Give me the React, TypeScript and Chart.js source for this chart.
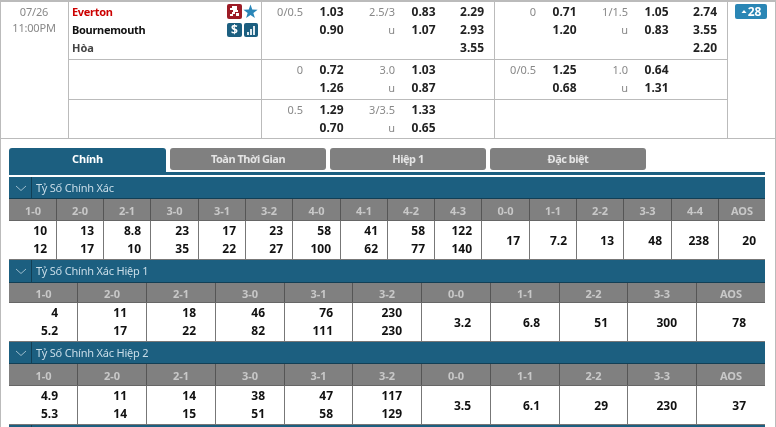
import { useEffect, useRef } from "react";
import Chart from "chart.js/auto";

// top odds block
const teams = ["Everton", "Bournemouth", "Hòa"];
const matchDate = "07/26";
const matchTime = "11:00PM";
const handicapLines = [["0/0.5"], ["0"], ["0.5"]];
const handicapOdds = [["1.03", "0.90"], ["0.72", "1.26"], ["1.29", "0.70"]];
const totalLines = [["2.5/3", "u"], ["3.0", "u"], ["3/3.5", "u"]];
const totalOdds = [["0.83", "1.07"], ["1.03", "0.87"], ["1.33", "0.65"]];
const fullTimeOdds = ["2.29", "2.93", "3.55"];
const halfHandicapLines = [["0"], ["0/0.5"]];
const halfHandicapOdds = [["0.71", "1.20"], ["1.25", "0.68"]];
const halfTotalLines = [["1/1.5", "u"], ["1.0", "u"]];
const halfTotalOdds = [["1.05", "0.83"], ["0.64", "1.31"]];
const halfTimeOdds = ["2.74", "3.55", "2.20"];
const moreCount = "28";

const tabs = ["Chính", "Toàn Thời Gian", "Hiệp 1", "Đặc biệt"];

// correct score tables
const scoresFull = ["1-0", "2-0", "2-1", "3-0", "3-1", "3-2", "4-0", "4-1", "4-2", "4-3", "0-0", "1-1", "2-2", "3-3", "4-4", "AOS"];
const scoresHalf = ["1-0", "2-0", "2-1", "3-0", "3-1", "3-2", "0-0", "1-1", "2-2", "3-3", "AOS"];

const fullHome = ["10", "13", "8.8", "23", "17", "23", "58", "41", "58", "122"];
const fullAway = ["12", "17", "10", "35", "22", "27", "100", "62", "77", "140"];
const fullDraw = ["17", "7.2", "13", "48", "238", "20"];

const half1Home = ["4", "11", "18", "46", "76", "230"];
const half1Away = ["5.2", "17", "22", "82", "111", "230"];
const half1Draw = ["3.2", "6.8", "51", "300", "78"];

const half2Home = ["4.9", "11", "14", "38", "47", "117"];
const half2Away = ["5.3", "14", "15", "51", "58", "129"];
const half2Draw = ["3.5", "6.1", "29", "230", "37"];

const sectionTitles = ["Tỷ Số Chính Xác", "Tỷ Số Chính Xác Hiệp 1", "Tỷ Số Chính Xác Hiệp 2"];

const FONT = '"Noto Sans", sans-serif';
const W = 776;
const H = 427;
const BLUE = "#1c5f80";
const GREY = "#808080";
const LINE = "#bbbbbb";

const edgesFull = [9, 56, 103, 150, 198, 245, 292, 340, 387, 434, 481, 529, 576, 623, 671, 718, 765];
const edgesHalf = [9, 77, 146, 215, 284, 352, 421, 490, 559, 627, 696, 765];

const sectionLayout = [
  { band: 177, head: 199, body: 221, bottom: 259, edges: edgesFull, pad: 10, labels: scoresFull, home: fullHome, away: fullAway, draw: fullDraw },
  { band: 260, head: 283, body: 303, bottom: 341, edges: edgesHalf, pad: 20, labels: scoresHalf, home: half1Home, away: half1Away, draw: half1Draw },
  { band: 342, head: 364, body: 386, bottom: 424, edges: edgesHalf, pad: 20, labels: scoresHalf, home: half2Home, away: half2Away, draw: half2Draw },
];

type Cell = { x: number; y: number; text: string };

function column(right: number, ys: number[], rows: string[]): Cell[] {
  return rows.map((text, i) => ({ x: right, y: ys[i], text }));
}

const rowY = [[12, 30, 48], [70, 88], [110, 128]];

function oddsColumn(right: number, rows: string[][], first = 0): Cell[] {
  return rows.flatMap((r, i) => column(right, rowY[i + first], r));
}

const boldCells: Cell[] = [
  ...oddsColumn(343.5, handicapOdds),
  ...oddsColumn(435.5, totalOdds),
  ...column(484, rowY[0], fullTimeOdds),
  ...oddsColumn(576.5, halfHandicapOdds),
  ...oddsColumn(668.5, halfTotalOdds),
  ...column(717, rowY[0], halfTimeOdds),
];
const lineCells: Cell[] = [
  ...oddsColumn(303, handicapLines),
  ...oddsColumn(395, totalLines),
  ...oddsColumn(536, halfHandicapLines),
  ...oddsColumn(628, halfTotalLines),
];
const tableCells: Cell[] = sectionLayout.flatMap((s) => {
  const upper = s.body + 10;
  const lower = s.bottom - 10;
  const mid = (s.body + s.bottom) / 2 + 0.5;
  const pairs = s.home.flatMap((v, i) => [
    { x: s.edges[i + 1] - s.pad + 1, y: upper, text: v },
    { x: s.edges[i + 1] - s.pad + 1, y: lower, text: s.away[i] },
  ]);
  const singles = s.draw.map((v, i) => ({ x: s.edges[s.home.length + i + 1] - s.pad + 1, y: mid, text: v }));
  return [...pairs, ...singles];
});
const headCells: Cell[] = sectionLayout.flatMap((s) =>
  s.labels.map((text, i) => ({ x: (s.edges[i] + s.edges[i + 1]) / 2 + 0.5, y: (s.head + s.body) / 2 + 0.5, text })),
);
const titleCells: Cell[] = sectionLayout.map((s, i) => ({ x: 36, y: s.band + 11, text: sectionTitles[i] }));

const textSets = [
  { cells: boldCells, color: "#222222", font: `bold 12px ${FONT}`, align: "right" },
  { cells: lineCells, color: "#888888", font: `11px ${FONT}`, align: "right" },
  { cells: tableCells, color: "#111111", font: `bold 12px ${FONT}`, align: "right" },
  { cells: headCells, color: "#c8c8c8", font: `bold 11px ${FONT}`, align: "center" },
  { cells: titleCells, color: "#c9dde8", font: `11px ${FONT}`, align: "left", spacing: "-0.2px" },
  { cells: [{ x: 34, y: 12, text: matchDate }, { x: 34, y: 28, text: matchTime }], color: "#888888", font: `11px ${FONT}`, align: "center", spacing: "-0.2px" },
  { cells: [{ x: 72, y: 12, text: teams[0] }], color: "#cc0000", font: `bold 11px ${FONT}`, align: "left", spacing: "-0.3px" },
  { cells: [{ x: 72, y: 30, text: teams[1] }], color: "#111111", font: `bold 11px ${FONT}`, align: "left", spacing: "-0.3px" },
  { cells: [{ x: 72, y: 48, text: teams[2] }], color: "#444444", font: `bold 11px ${FONT}`, align: "left" },
  { cells: [{ x: 87.5, y: 159, text: tabs[0] }], color: "#ffffff", font: `bold 11px ${FONT}`, align: "center", spacing: "-0.2px" },
  { cells: [{ x: 248, y: 159, text: tabs[1] }, { x: 408, y: 159, text: tabs[2] }, { x: 568, y: 159, text: tabs[3] }], color: "#e4e4e4", font: `bold 11px ${FONT}`, align: "center", spacing: "-0.5px" },
  { cells: [{ x: 754.5, y: 12, text: moreCount }], color: "#ffffff", font: `bold 12px ${FONT}`, align: "center" },
  { cells: [{ x: 234.5, y: 29.5, text: "$" }], color: "#ffffff", font: `bold 12px ${FONT}`, align: "center" },
];

function roundBox(c: CanvasRenderingContext2D, x: number, y: number, w: number, h: number, r: number | number[], color: string) {
  c.fillStyle = color;
  c.beginPath();
  c.roundRect(x, y, w, h, r);
  c.fill();
}

const tablePlugin = {
  id: "oddsTable",
  beforeDatasetsDraw(chart: any) {
    const c: CanvasRenderingContext2D = chart.ctx;
    const sx = (v: number) => chart.scales.x.getPixelForValue(v);
    const sy = (v: number) => chart.scales.y.getPixelForValue(v);
    const rect = (x: number, y: number, w: number, h: number, color: string) => {
      c.fillStyle = color;
      c.fillRect(sx(x), sy(y), w, h);
    };
    c.save();
    rect(0, 0, W, H, "#ffffff");

    // outer frame + top block grid
    rect(0, 0, W, 2, LINE);
    rect(0, 0, 1, H, LINE);
    rect(775, 0, 1, H, LINE);
    [68, 261, 494, 727].forEach((x) => rect(x, 0, 1, 138, LINE));
    [59, 99].forEach((y) => rect(68, y, 659, 1, LINE));
    rect(0, 138, W, 1, LINE);

    // team icons
    roundBox(c, 227, 4, 15, 15, 2, "#9c1c26");
    c.fillStyle = "#ffffff";
    c.fillRect(232, 6, 5, 2);
    c.fillRect(230, 8, 7, 2);
    c.fillRect(233, 10, 5, 2);
    c.fillRect(232, 12, 3, 2);
    c.fillRect(230, 14, 3, 2);
    c.fillRect(236, 13, 3, 3);
    c.fillStyle = "#2a86b8";
    c.beginPath();
    for (let i = 0; i < 10; i++) {
      const r = i % 2 ? 3 : 7.5;
      const a = -Math.PI / 2 + (i * Math.PI) / 5;
      c.lineTo(250.5 + r * Math.cos(a), 12 + r * Math.sin(a));
    }
    c.fill();
    roundBox(c, 227, 23, 15, 14, 2, BLUE);
    roundBox(c, 244, 23, 14, 14, 2, BLUE);
    c.fillStyle = "#dfeaf0";
    c.fillRect(247, 32, 2, 3);
    c.fillRect(250, 29, 2, 6);
    c.fillRect(253, 26, 2, 9);

    // count button
    roundBox(c, 735, 4, 32, 15, 2, "#2a86b5");
    c.fillStyle = "#ffffff";
    c.beginPath();
    c.moveTo(741.5, 13);
    c.lineTo(746.5, 13);
    c.lineTo(744, 10);
    c.fill();

    // tabs
    rect(9, 172, 756, 3, BLUE);
    roundBox(c, 9, 148, 157, 25, [3, 3, 0, 0], BLUE);
    [170, 330, 490].forEach((x) => roundBox(c, x, 148, 156, 22, 3, GREY));

    // score sections
    sectionLayout.forEach((s) => {
      rect(9, s.band, 756, s.head - s.band, BLUE);
      rect(9, s.head - 1, 756, 1, "#123f55");
      rect(31, s.band, 1, s.head - s.band, "#123f55");
      rect(9, s.head, 756, s.body - s.head, GREY);
      s.edges.slice(1, -1).forEach((x) => {
        rect(x, s.head, 1, s.body - s.head, "#555555");
        rect(x, s.body, 1, s.bottom - s.body, "#777777");
      });
      rect(9, s.body - 1, 756, 1, "#666666");
      rect(9, s.bottom, 756, 1, "#777777");
      c.strokeStyle = "#9cbccc";
      c.lineWidth = 1;
      c.beginPath();
      const cy = s.band + 9;
      c.moveTo(16, cy);
      c.lineTo(21, cy + 4.5);
      c.lineTo(26, cy);
      c.stroke();
    });
    rect(9, 425, 756, 2, BLUE);
    rect(31, 425, 1, 2, "#123f55");
    c.restore();
  },
  afterDatasetsDraw(chart: any) {
    const c: any = chart.ctx;
    c.save();
    c.textBaseline = "middle";
    chart.data.datasets.forEach((ds: any, i: number) => {
      c.font = ds.textFont;
      c.letterSpacing = ds.textSpacing || "0px";
      c.fillStyle = ds.textColor;
      c.textAlign = ds.textAlign;
      chart.getDatasetMeta(i).data.forEach((pt: any, j: number) => {
        c.fillText(ds.data[j].text, pt.x, pt.y + 1);
      });
    });
    c.restore();
  },
};

export default function App() {
  const canvasRef = useRef<HTMLCanvasElement | null>(null);

  useEffect(() => {
    const canvas = canvasRef.current;
    if (!canvas) return;
    const chart = new Chart(canvas, {
      type: "scatter",
      data: {
        datasets: textSets.map((t: any) => ({
          data: t.cells,
          pointRadius: 0,
          textFont: t.font,
          textColor: t.color,
          textAlign: t.align,
          textSpacing: t.spacing,
        })) as any,
      },
      options: {
        animation: false,
        responsive: false,
        devicePixelRatio: 1,
        layout: { padding: 0 },
        plugins: { legend: { display: false }, tooltip: { enabled: false } },
        scales: {
          x: { type: "linear", display: false, min: 0, max: W },
          y: { type: "linear", display: false, min: 0, max: H, reverse: true },
        },
      },
      plugins: [tablePlugin],
    });
    return () => chart.destroy();
  }, []);

  return (
    <div style={{ position: "absolute", left: 0, top: 0, width: W, height: H, background: "#fff" }}>
      <canvas ref={canvasRef} width={W} height={H} style={{ display: "block" }} />
    </div>
  );
}
